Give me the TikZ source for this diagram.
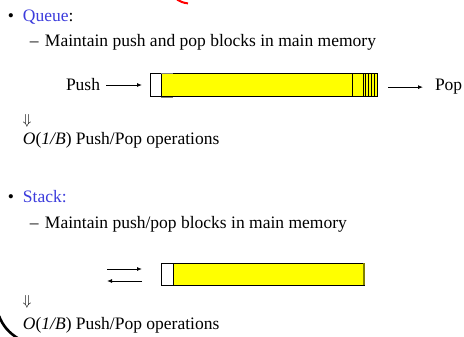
\documentclass[tikz,border=0pt]{standalone}
\usepackage{fontspec}
\setmainfont{Liberation Serif}
\usepackage{tikz,xcolor}
\usetikzlibrary{arrows.meta}

\definecolor{titleblue}{RGB}{60,60,220}
\definecolor{blockyellow}{RGB}{255,255,0}
\definecolor{edgeolive}{RGB}{128,128,0}

\tikzset{
	txt/.style={anchor=base west,inner sep=0pt,outer sep=0pt,font=\fontsize{17.5}{21}\selectfont},
	cell/.style={draw=black,line width=1pt,anchor=north west,inner sep=0pt,outer sep=0pt,minimum height=23pt},
	flow/.style={line width=0.9pt,-{Latex[length=5pt,width=4pt]}},
}

\begin{document}
\begin{tikzpicture}[x=1pt,y=-1pt]
	\useasboundingbox (0,0) rectangle (464,337);
%	\draw[help lines, color=black!30, step=20pt,ultra thin](0,0)grid(464,337);

	% cut-off title and margin arc
	\draw [red,line width=2pt](177,-0.5) .. controls (180,1.5) and (183,2.8) .. (188,3.4);
	\draw [black,line width=2.6pt](-1,316) .. controls (3,326) and (9,333) .. (19,339);

	\begin{scope}
		\node [txt] (bq) at (8,22){\textbullet};
		\node [txt,text=titleblue] (queue) at (23,22){Queue\textcolor{black}{:}};
		\node [txt] (dq) at (30,47){--};
		\node [txt] (mq) at (45,47){Maintain push and pop blocks in main memory};

		\node [cell,fill=white,minimum width=11pt] (qhead) at (150,74){};
		\node [cell,fill=blockyellow,minimum width=191pt] (qbody) at (161,74){};
		\node [cell,fill=blockyellow,minimum width=11pt] (qcell) at (352,74){};
		\node [cell,fill=blockyellow,minimum width=14pt] (qtail) at (363,74){};
		\foreach \sx in {365.5,368.5,371.5,374.5}
			\draw [black,line width=0.9pt](\sx,74)--(\sx,97);
		\draw [gray,line width=0.8pt](161,73.2)--(173,73.2);
		\draw [gray,line width=0.8pt](161,97.8)--(173,97.8);

		\node [txt] (push) at (66,91){Push};
		\node [txt] (pop) at (435,91){Pop};
		\draw [flow,shorten <=6pt,shorten >=8pt](push.east)--(push.east-|qhead.west);
		\draw [flow,shorten <=11pt,shorten >=12pt](pop.west-|qtail.east)--(pop.west);

		\node [anchor=center,inner sep=0pt,font=\fontsize{15}{18}\selectfont] (iq) at (27,121){$\Downarrow$};
		\node [txt] (oq) at (23,145){\textit{O}(\textit{1/B}) Push/Pop operations};
	\end{scope}

	\begin{scope}
		\node [txt] (bs) at (8,203){\textbullet};
		\node [txt,text=titleblue] (stack) at (23,203){Stack:};
		\node [txt] (ds) at (30,228){--};
		\node [txt] (ms) at (45,228){Maintain push/pop blocks in main memory};

		\node [cell,fill=white,minimum width=12pt,minimum height=22pt] (shead) at (161,263){};
		\node [cell,fill=blockyellow,minimum width=191pt,minimum height=22pt] (sbody) at (173,263){};
		\draw [edgeolive,line width=1.2pt](sbody.north east)--(sbody.south east);

		\coordinate (inL) at (107,269);
		\coordinate (inR) at (142,269);
		\coordinate (outR) at (142,281);
		\coordinate (outL) at (107,281);
		\draw [flow](inL)--(inR);
		\draw [flow](outR)--(outL);

		\node [anchor=center,inner sep=0pt,font=\fontsize{15}{18}\selectfont] (is) at (27,302){$\Downarrow$};
		\node [txt] (os) at (23,329){\textit{O}(\textit{1/B}) Push/Pop operations};
	\end{scope}

\end{tikzpicture}
\end{document}
